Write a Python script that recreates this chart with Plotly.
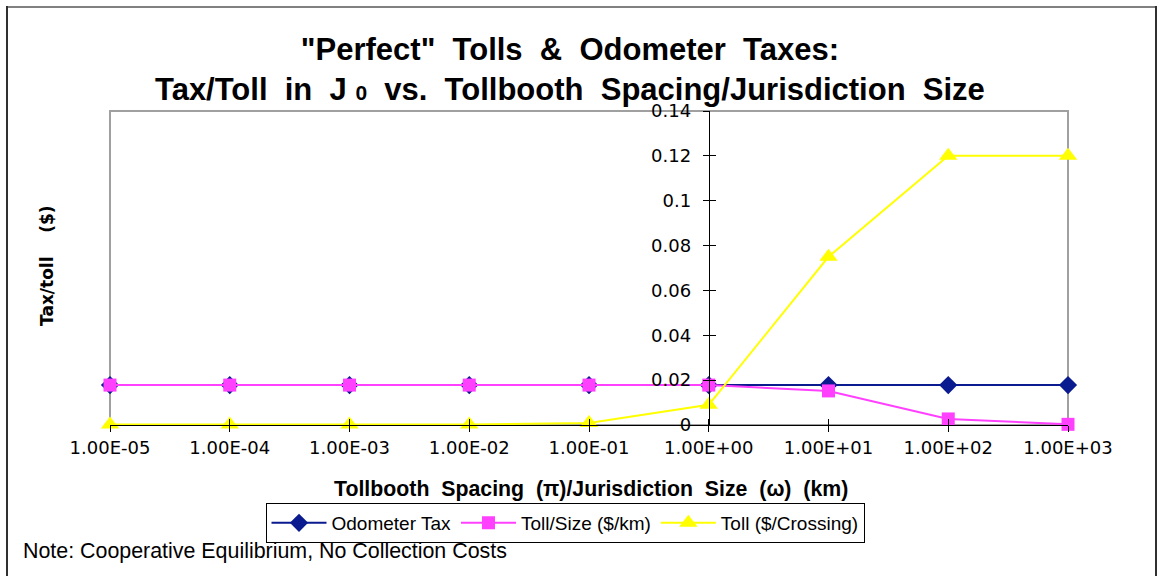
import plotly.graph_objects as go

categories = ["1.00E-05", "1.00E-04", "1.00E-03", "1.00E-02", "1.00E-01",
              "1.00E+00", "1.00E+01", "1.00E+02", "1.00E+03"]
odometer_tax = [0.0178, 0.0178, 0.0178, 0.0178, 0.0178, 0.0178, 0.0178, 0.0178, 0.0178]
toll_size = [0.0178, 0.0178, 0.0178, 0.0178, 0.0178, 0.0178, 0.0152, 0.0027, 0.0003]
toll_crossing = [0.0002, 0.0002, 0.0002, 0.0002, 0.0009, 0.0090, 0.0750, 0.1200, 0.1200]
y_ticks = [0, 0.02, 0.04, 0.06, 0.08, 0.1, 0.12, 0.14]
y_ticktext = ["0", "0.02", "0.04", "0.06", "0.08", "0.1", "0.12", "0.14"]

NARROW = "Liberation Sans Narrow, Arial Narrow, Liberation Sans, sans-serif"
TICKF = "DejaVu Sans, Verdana, sans-serif"

fig = go.Figure()
fig.add_trace(go.Scatter(x=categories, y=odometer_tax, name="Odometer Tax", mode="lines+markers",
                         cliponaxis=False,
                         line=dict(color="#0a1a8f", width=2),
                         marker=dict(symbol="diamond", size=14, color="#0a1a8f")))
fig.add_trace(go.Scatter(x=categories, y=toll_size, name="Toll/Size ($/km)", mode="lines+markers",
                         cliponaxis=False,
                         line=dict(color="#ff40ff", width=2),
                         marker=dict(symbol="square", size=13, color="#ff40ff")))
fig.add_trace(go.Scatter(x=categories, y=toll_crossing, name="Toll ($/Crossing)", mode="lines+markers",
                         cliponaxis=False,
                         line=dict(color="#ffff00", width=2),
                         marker=dict(symbol="triangle-up", size=16, color="#ffff00")))
# invisible trace to hold the overlay axes (cross ticks)
fig.add_trace(go.Scatter(x=categories, y=odometer_tax, xaxis="x2", yaxis="y2", mode="lines",
                         line=dict(width=0, color="rgba(0,0,0,0)"), showlegend=False, hoverinfo="skip"))

L, R, T, B = 110, 90, 111, 151
W, H = 1158, 576
pw, ph = W - L - R, H - T - B

def px(x):
    return (x - L) / pw

def py(y):
    return (H - B - y) / ph

fig.update_layout(
    width=W, height=H,
    margin=dict(l=L, r=R, t=T, b=B),
    paper_bgcolor="white", plot_bgcolor="white",
    showlegend=True,
    legend=dict(orientation="h", x=px(565), y=py(523), xanchor="center", yanchor="middle",
                bordercolor="black", borderwidth=1, bgcolor="white",
                font=dict(family=NARROW, size=19, color="black"),
                itemwidth=55, tracegroupgap=0),
    xaxis=dict(type="category", range=[0, 8], showgrid=False, zeroline=False,
               showline=True, linecolor="black", linewidth=1,
               ticks="outside", ticklen=6, tickcolor="black",
               tickfont=dict(family=TICKF, size=18, color="black")),
    xaxis2=dict(type="category", range=[0, 8], overlaying="x", anchor="y", side="bottom",
                showgrid=False, zeroline=False, showline=False, showticklabels=False,
                ticks="inside", ticklen=6, tickcolor="black"),
    yaxis=dict(range=[0, 0.14], anchor="free", position=5 / 8, showgrid=False, zeroline=False,
               showline=True, linecolor="black", linewidth=1,
               ticks="outside", ticklen=6, tickcolor="black",
               tickvals=y_ticks, ticktext=y_ticktext, ticklabelstandoff=8,
               tickfont=dict(family=TICKF, size=18, color="black")),
    yaxis2=dict(range=[0, 0.14], overlaying="y", anchor="free", position=5 / 8,
                showgrid=False, zeroline=False, showline=False, showticklabels=False,
                ticks="inside", ticklen=6, tickcolor="black", tickvals=y_ticks),
)

# plot area border (gray) and outer chart border
fig.add_shape(type="rect", xref="paper", yref="paper", x0=0, x1=1, y0=0, y1=1,
              line=dict(color="#a0a0a0", width=2), layer="below")
fig.add_shape(type="line", xref="paper", yref="paper", x0=px(6), x1=px(1157), y0=py(7), y1=py(7),
              line=dict(color="#808080", width=2))
fig.add_shape(type="line", xref="paper", yref="paper", x0=px(7), x1=px(7), y0=py(6), y1=py(590),
              line=dict(color="#303030", width=2))
fig.add_shape(type="line", xref="paper", yref="paper", x0=px(1156), x1=px(1156), y0=py(6), y1=py(590),
              line=dict(color="#303030", width=2))

fig.add_annotation(xref="paper", yref="paper", x=px(570), y=py(69), xanchor="center", yanchor="middle",
                   text='<b>"Perfect"  Tolls  &  Odometer  Taxes:<br>Tax/Toll  in  J <span style="font-size:21px">0</span>  vs.  Tollbooth  Spacing/Jurisdiction  Size</b>',
                   showarrow=False, font=dict(family=NARROW, size=31, color="black"))
fig.add_annotation(xref="paper", yref="paper", x=px(591), y=py(489), xanchor="center", yanchor="middle",
                   text="<b>Tollbooth  Spacing  (π)/Jurisdiction  Size  (ω)  (km)</b>",
                   showarrow=False, font=dict(family=NARROW, size=21.3, color="black"))
fig.add_annotation(xref="paper", yref="paper", x=px(47), y=py(266), xanchor="center", yanchor="middle",
                   text="<b>Tax/toll    ($)</b>", textangle=-90,
                   showarrow=False, font=dict(family="DejaVu Sans, Verdana, sans-serif", size=17, color="black"))
fig.add_annotation(xref="paper", yref="paper", x=px(21), y=py(551), xanchor="left", yanchor="middle",
                   text="Note: Cooperative Equilibrium, No Collection Costs",
                   showarrow=False, font=dict(family=NARROW, size=21.4, color="black"))

fig.write_html("out.html", config={"displayModeBar": False},
               post_script="document.body.style.margin='0';")
